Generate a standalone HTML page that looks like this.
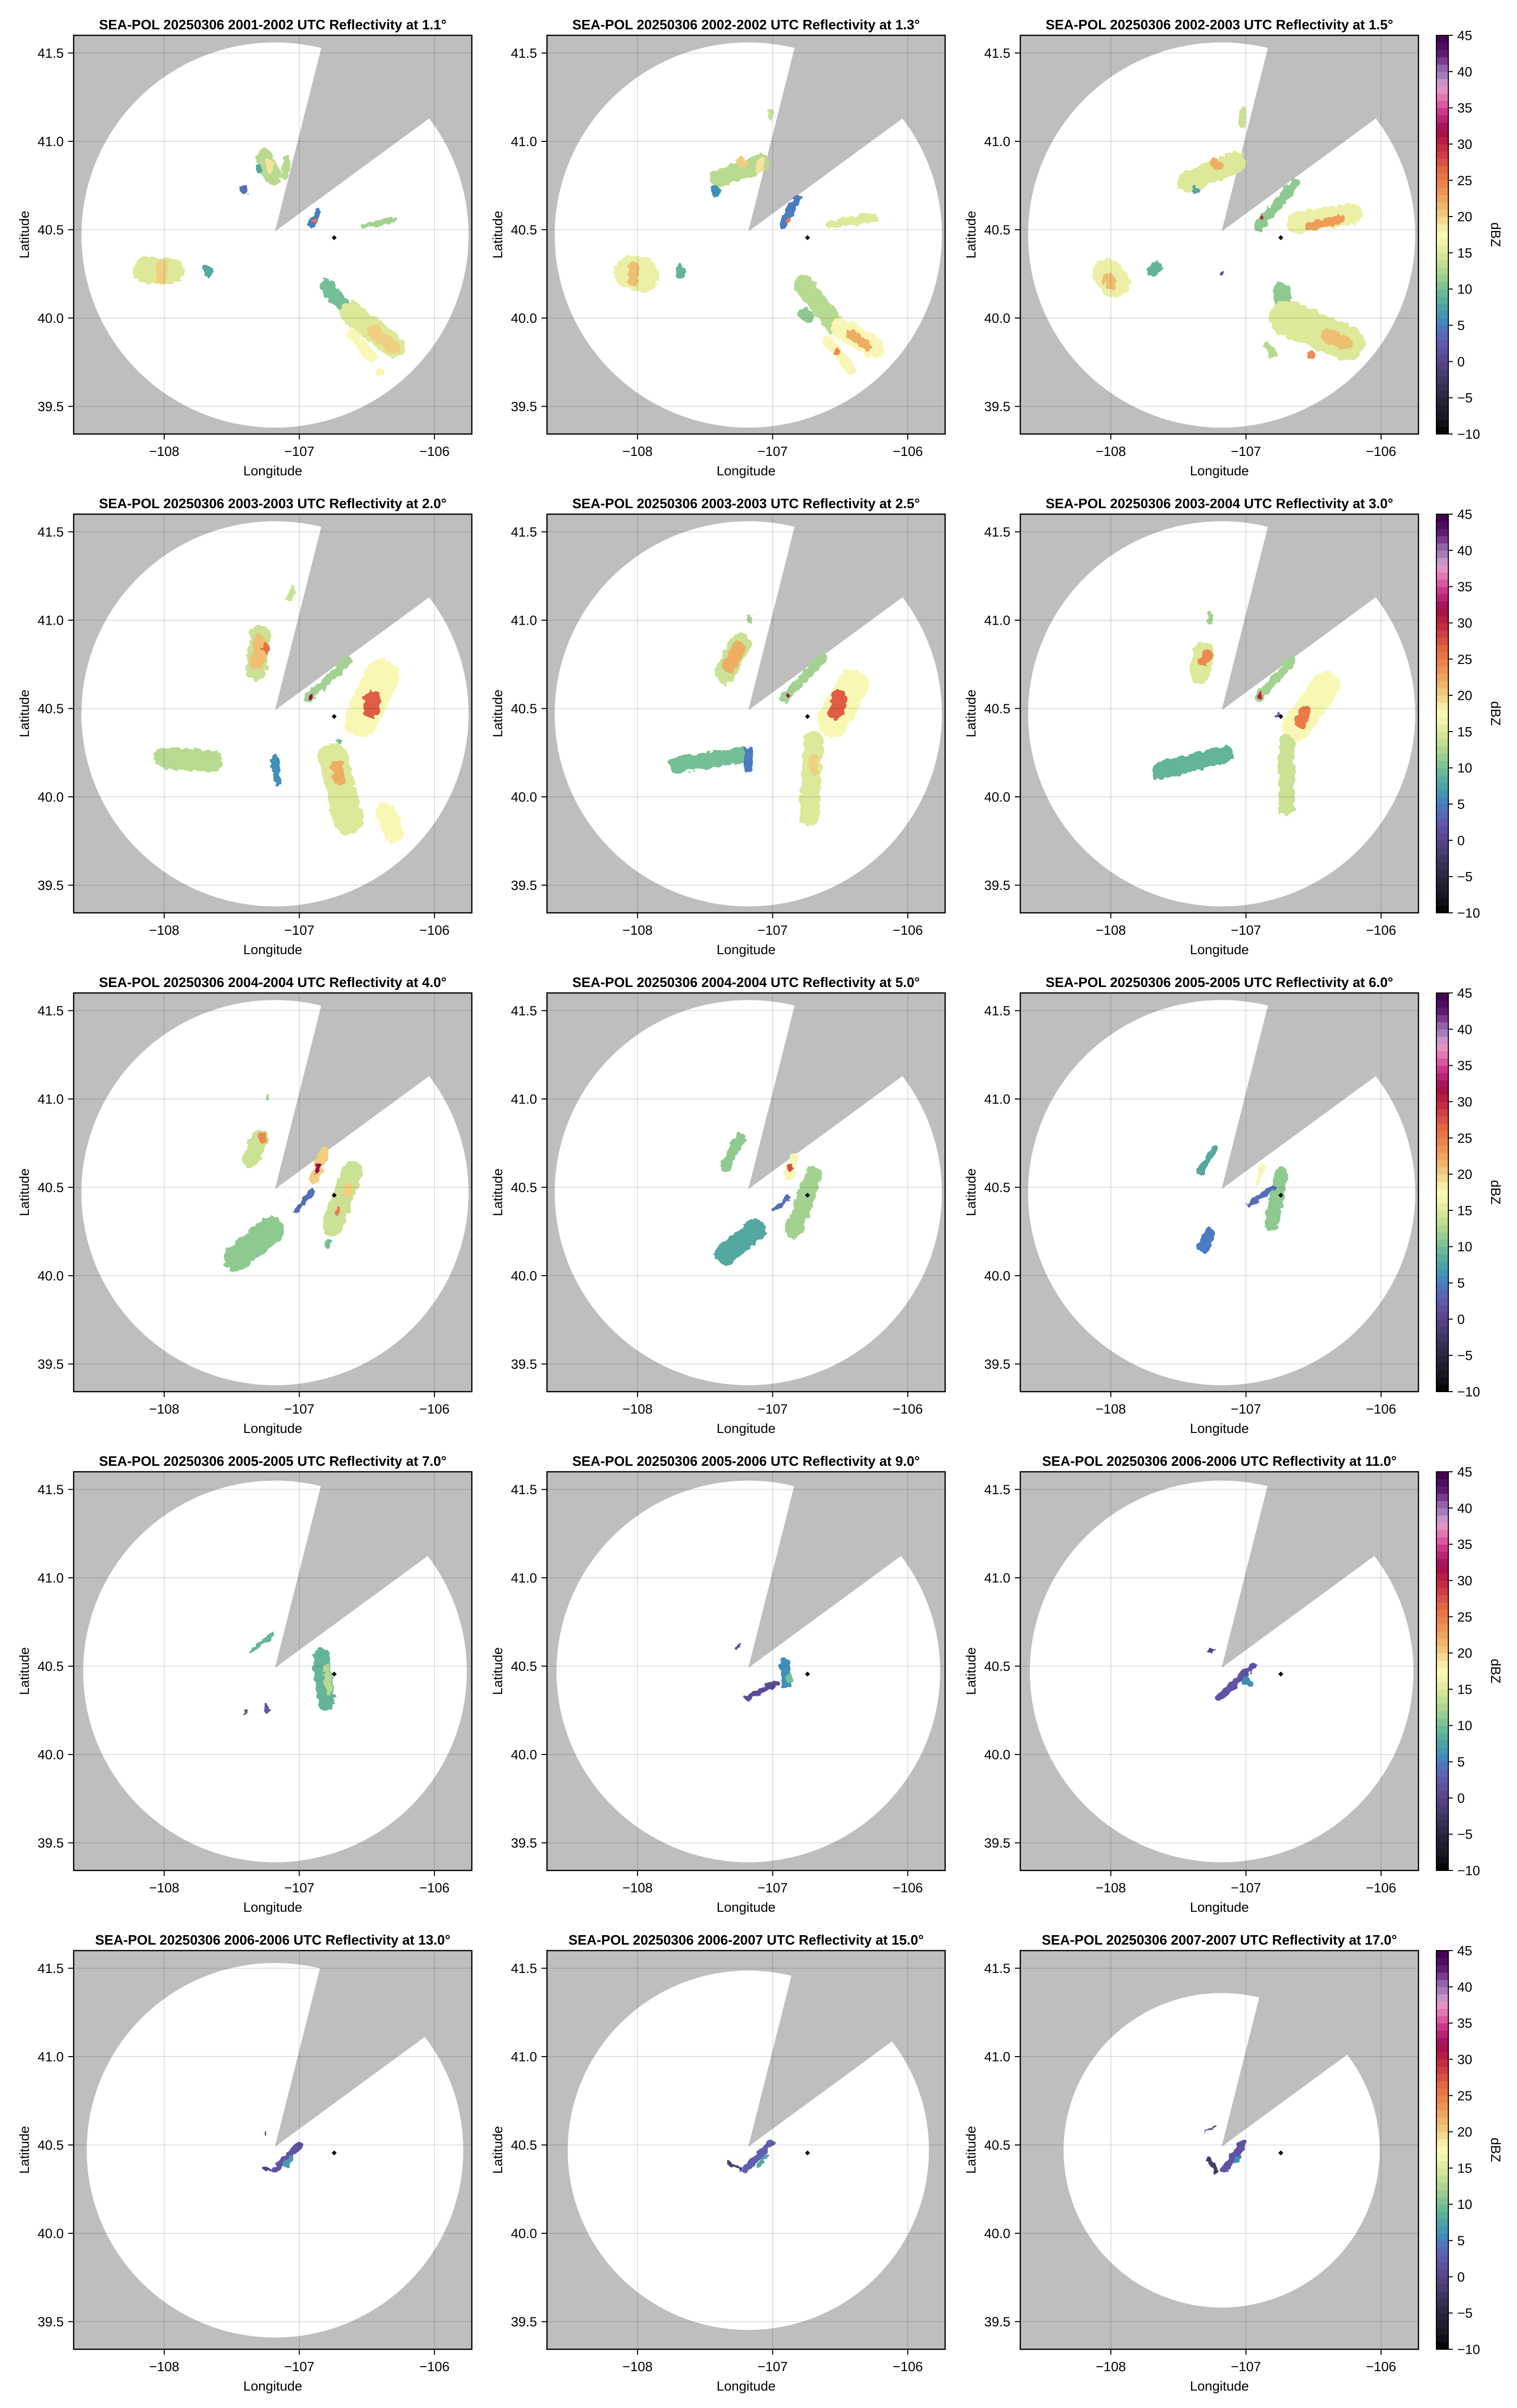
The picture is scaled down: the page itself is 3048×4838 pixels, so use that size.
<!DOCTYPE html>
<html><head><meta charset="utf-8"><style>
html,body{margin:0;padding:0;background:#fff;}
svg{display:block;font-family:"Liberation Sans",Arial,sans-serif;}
</style></head>
<body>
<svg id="fig" xmlns="http://www.w3.org/2000/svg" width="3048" height="4838" viewBox="0 0 3048 4838">
<defs>
<filter id="rough" x="-20%" y="-20%" width="140%" height="140%">
<feTurbulence type="fractalNoise" baseFrequency="0.08" numOctaves="2" seed="3" result="n"/>
<feDisplacementMap in="SourceGraphic" in2="n" scale="14" xChannelSelector="R" yChannelSelector="G"/>
</filter>
</defs>
</svg>
<script>
// ---- data ----
const elevations = ["1.1","1.3","1.5","2.0","2.5","3.0","4.0","5.0","6.0","7.0","9.0","11.0","13.0","15.0","17.0"];
const timeRanges = ["2001-2002","2002-2002","2002-2003","2003-2003","2003-2003","2003-2004","2004-2004","2004-2004","2005-2005","2005-2005","2005-2006","2006-2006","2006-2006","2006-2007","2007-2007"];
const rangeLat = [1.09,1.09,1.09,1.09,1.09,1.09,1.09,1.09,1.09,1.08,1.08,1.08,1.06,1.017,0.89];
const latTicks = [39.5,40.0,40.5,41.0,41.5];
const latTickLabels = ["39.5","40.0","40.5","41.0","41.5"];
const lonTicks = [-108,-107,-106];
const lonTickLabels = ["\u2212108","\u2212107","\u2212106"];
const cbTicks = [-10,-5,0,5,10,15,20,25,30,35,40,45];
const cbTickLabels = ["\u221210","\u22125","0","5","10","15","20","25","30","35","40","45"];
const radarSite = [-107.18, 40.47];
const shipPos = [-106.742, 40.455];
const wedgeEdge1 = [-106.839, 41.525];
const wedgeEdge2 = [-106.056, 41.12];
const wedgeApex = [-107.18, 40.49];
// echo cells: [lon1, lat1, lon2, lat2, widthDegLat, dBZ]
const echoes1 = [
 [-107.26,40.91,-107.20,40.80,0.10,13],[-107.22,40.88,-107.22,40.84,0.04,19],[-107.09,40.90,-107.11,40.80,0.04,13],
 [-107.42,40.73,-107.41,40.72,0.04,4],[-107.30,40.85,-107.30,40.84,0.03,8],
 [-106.86,40.60,-106.91,40.53,0.04,5],[-106.89,40.55,-106.88,40.56,0.015,25],
 [-106.52,40.52,-106.30,40.56,0.03,12],
 [-108.13,40.27,-107.95,40.27,0.15,15],[-108.02,40.30,-108.02,40.22,0.06,20],[-107.69,40.28,-107.67,40.26,0.05,8],
 [-106.80,40.18,-106.62,40.03,0.08,10],[-106.62,40.03,-106.30,39.84,0.13,15],[-106.45,39.93,-106.30,39.83,0.07,20],
 [-106.61,39.91,-106.47,39.78,0.06,17],[-106.41,39.70,-106.40,39.69,0.04,18]
];
const echoes2 = [
 [-107.40,40.79,-107.08,40.88,0.10,13],[-107.23,40.89,-107.22,40.87,0.05,20],[-107.09,40.89,-107.10,40.84,0.04,19],
 [-107.42,40.73,-107.42,40.71,0.05,6],[-107.01,41.17,-107.02,41.13,0.03,14],
 [-106.82,40.68,-106.92,40.53,0.05,5],[-106.89,40.55,-106.88,40.56,0.02,25],
 [-106.57,40.53,-106.25,40.57,0.05,15],
 [-108.05,40.26,-107.96,40.24,0.19,16],[-108.03,40.29,-108.03,40.21,0.06,21],[-107.69,40.28,-107.68,40.25,0.05,9],
 [-106.77,40.19,-106.55,39.97,0.11,13],[-106.76,40.02,-106.74,40.01,0.07,11],
 [-106.49,39.94,-106.25,39.83,0.12,18],[-106.42,39.91,-106.30,39.84,0.05,22],[-106.59,39.87,-106.42,39.71,0.06,18],[-106.53,39.80,-106.52,39.81,0.03,24]
];
const echoes3 = [
 [-107.43,40.77,-107.08,40.88,0.12,15],[-107.23,40.88,-107.21,40.86,0.05,22],[-107.38,40.73,-107.37,40.72,0.04,8],
 [-107.02,41.18,-107.03,41.10,0.04,14],
 [-106.64,40.76,-106.91,40.52,0.06,11],[-106.89,40.56,-106.88,40.57,0.02,30],
 [-106.62,40.54,-106.22,40.59,0.12,16],[-106.53,40.52,-106.30,40.56,0.05,23],
 [-108.03,40.25,-107.97,40.20,0.17,16],[-108.02,40.22,-108.00,40.20,0.07,21],[-107.69,40.27,-107.66,40.29,0.07,9],[-107.18,40.26,-107.18,40.25,0.02,2],
 [-106.74,40.15,-106.70,40.00,0.10,11],[-106.70,40.00,-106.25,39.86,0.20,15],[-106.40,39.90,-106.27,39.86,0.08,21],
 [-106.84,39.84,-106.80,39.80,0.05,13],[-106.52,39.80,-106.51,39.79,0.04,24]
];
const echoes4 = [
 [-107.29,40.91,-107.32,40.72,0.12,14],[-107.29,40.88,-107.31,40.76,0.08,21],[-107.25,40.85,-107.25,40.83,0.04,26],
 [-107.07,41.13,-107.05,41.18,0.04,14],
 [-106.64,40.77,-106.93,40.56,0.05,12],[-106.92,40.56,-106.91,40.57,0.02,32],
 [-106.39,40.68,-106.54,40.44,0.20,17],[-106.46,40.55,-106.47,40.50,0.10,27],[-106.71,40.32,-106.70,40.31,0.03,10],
 [-108.00,40.22,-107.64,40.20,0.12,13],[-107.18,40.22,-107.16,40.08,0.04,6],
 [-106.75,40.22,-106.64,39.87,0.17,15],[-106.72,40.17,-106.70,40.10,0.07,22],[-106.36,39.91,-106.30,39.80,0.12,17]
];
const echoes5 = [
 [-107.24,40.87,-107.35,40.70,0.12,14],[-107.25,40.84,-107.32,40.74,0.08,22],[-107.17,40.99,-107.17,41.02,0.03,12],
 [-106.63,40.79,-106.91,40.56,0.05,12],[-106.89,40.57,-106.88,40.58,0.02,32],
 [-106.41,40.63,-106.55,40.43,0.18,17],[-106.51,40.56,-106.53,40.48,0.09,27],
 [-106.70,40.32,-106.73,39.89,0.11,15],[-106.70,40.21,-106.70,40.15,0.05,20],
 [-107.71,40.18,-107.20,40.24,0.09,10],[-107.18,40.26,-107.18,40.16,0.05,5]
];
const echoes6 = [
 [-107.31,40.82,-107.34,40.70,0.12,15],[-107.29,40.80,-107.31,40.77,0.06,24],[-107.27,40.99,-107.26,41.03,0.03,12],
 [-106.66,40.77,-106.91,40.56,0.05,12],[-106.90,40.57,-106.89,40.58,0.02,30],
 [-106.41,40.63,-106.63,40.39,0.16,17],[-106.57,40.48,-106.59,40.42,0.07,25],
 [-106.70,40.31,-106.70,39.94,0.09,14],
 [-107.63,40.15,-107.16,40.24,0.10,9],[-106.77,40.46,-106.76,40.47,0.02,3]
];
const echoes7 = [
 [-107.29,40.78,-107.36,40.66,0.10,14],[-107.27,40.79,-107.28,40.77,0.04,24],[-107.23,41.02,-107.23,41.00,0.02,12],
 [-106.82,40.69,-106.89,40.55,0.06,20],[-106.86,40.62,-106.87,40.59,0.03,32],
 [-106.61,40.59,-106.75,40.29,0.12,14],[-106.64,40.50,-106.65,40.47,0.05,20],[-106.71,40.38,-106.72,40.35,0.03,25],
 [-106.90,40.48,-107.02,40.37,0.03,4],
 [-107.21,40.26,-107.46,40.10,0.15,11],[-106.79,40.19,-106.79,40.16,0.03,10]
];
const echoes8 = [
 [-107.24,40.78,-107.35,40.62,0.06,11],
 [-106.84,40.67,-106.88,40.57,0.05,18],[-106.86,40.62,-106.87,40.60,0.02,28],
 [-106.70,40.57,-106.84,40.26,0.10,12],[-106.88,40.44,-106.98,40.38,0.03,4],
 [-107.13,40.26,-107.35,40.12,0.12,8]
];
const echoes9 = [
 [-107.24,40.71,-107.34,40.59,0.04,8],
 [-106.88,40.62,-106.91,40.53,0.03,18],
 [-106.74,40.57,-106.81,40.29,0.08,11],[-106.80,40.50,-106.98,40.40,0.03,4],
 [-107.27,40.24,-107.31,40.16,0.07,5]
];
const echoes10 = [
 [-107.21,40.67,-107.36,40.58,0.03,9],
 [-106.84,40.55,-106.80,40.30,0.10,9],[-106.80,40.50,-106.78,40.36,0.04,13],
 [-107.25,40.27,-107.24,40.25,0.03,2],[-107.40,40.25,-107.40,40.24,0.02,1]
];
const echoes11 = [
 [-106.91,40.52,-106.90,40.40,0.06,6],[-106.98,40.40,-107.20,40.32,0.03,1],[-106.88,40.44,-106.87,40.42,0.03,10],
 [-107.27,40.60,-107.24,40.62,0.015,2]
];
const echoes12 = [
 [-106.95,40.50,-107.20,40.32,0.04,2],[-107.00,40.42,-106.98,40.40,0.04,6],[-107.27,40.58,-107.25,40.59,0.015,0]
];
const echoes13 = [
 [-107.00,40.50,-107.18,40.36,0.04,2],[-107.06,40.43,-107.10,40.38,0.03,7],[-107.26,40.37,-107.22,40.36,0.02,0],[-107.26,40.57,-107.25,40.58,0.012,0]
];
const echoes14 = [
 [-107.02,40.51,-107.20,40.36,0.04,3],[-107.05,40.44,-107.10,40.39,0.02,8],[-107.33,40.40,-107.24,40.36,0.02,-1]
];
const echoes15 = [
 [-107.02,40.51,-107.16,40.36,0.04,2],[-107.05,40.44,-107.08,40.40,0.02,6],[-107.28,40.43,-107.22,40.35,0.02,-2],[-107.30,40.58,-107.24,40.60,0.01,0]
];
const panelEchoes = [echoes1,echoes2,echoes3,echoes4,echoes5,echoes6,echoes7,echoes8,echoes9,echoes10,echoes11,echoes12,echoes13,echoes14,echoes15];

// colormap stops (dBZ -> colour)
const cmapValues = [-10,-8,-5,-2,0,1,3,5,6,8,10,11,13,15,17,18,20,22,25,26,27,28,29,30,31,32,33,34,35,36,37,38,39,40,41,42,43,45];
const cmapColors = ["#000000","#18141e","#2c2440","#443a6c","#564488","#5c4a98","#6060b0","#4a7cc0","#4090b8","#52a8a0","#74bf96","#8ec990","#b8da90","#dde898","#f8f8b4","#f8f6b4","#f0cf80","#eeae62","#ec7a45","#e8703e","#e05c42","#d64846","#cc3444","#c22240","#b11644","#9e0b4f","#b11c6a","#c62a80","#d84296","#e06aaa","#e584b8","#e0a0d0","#b088c2","#9e70b2","#8a52a2","#6a2277","#54136a","#3d0048"];

// ---- rendering ----
const NS="http://www.w3.org/2000/svg";
const svg=document.getElementById('fig');
function mk(tag,attrs,parent){const e=document.createElementNS(NS,tag);for(const k in attrs)e.setAttribute(k,attrs[k]);(parent||svg).appendChild(e);return e;}
function hex2rgb(h){return [parseInt(h.substr(1,2),16),parseInt(h.substr(3,2),16),parseInt(h.substr(5,2),16)];}
function cmap(v){
  if(v<=cmapValues[0])return cmapColors[0];
  for(let i=1;i<cmapValues.length;i++){
    if(v<=cmapValues[i]){const t=(v-cmapValues[i-1])/(cmapValues[i]-cmapValues[i-1]);
      const a=hex2rgb(cmapColors[i-1]),b=hex2rgb(cmapColors[i]);
      return 'rgb('+a.map((x,j)=>Math.round(x+(b[j]-x)*t)).join(',')+')';}
  }
  return cmapColors[cmapColors.length-1];
}
const PX_LON=271.5, PX_LAT=355, W=800, H=801;
const LON0=-108.67, LAT1=41.6;

for(let p=0;p<15;p++){
  const r=Math.floor(p/3), c=p%3;
  const L=148+951*c, T=71+962*r;
  const xs=lon=>L+(lon-LON0)*PX_LON;
  const ys=lat=>T+(LAT1-lat)*PX_LAT;
  const g=mk('g',{});
  
  
  const cid='clip'+p;
  const cp=mk('clipPath',{id:cid},g);mk('rect',{x:L,y:T,width:W,height:H},cp);
  const plot=mk('g',{'clip-path':'url(#'+cid+')'},g);
  const bg=mk('rect',{x:L,y:T,width:W,height:H,fill:'#bebebe'},plot);
  
  const rl=rangeLat[p], rlon=rl*PX_LAT/PX_LON*1.0;
  const circ=mk('ellipse',{cx:xs(radarSite[0]),cy:ys(radarSite[1]),rx:rl*PX_LAT*1.0,ry:rl*PX_LAT,fill:'#fff'},plot);
  circ.setAttribute('rx',(rl/0.7608)*PX_LON);
  
  const ax=xs(wedgeApex[0]),ay=ys(wedgeApex[1]);
  const d1=[xs(wedgeEdge1[0])-ax,ys(wedgeEdge1[1])-ay],d2=[xs(wedgeEdge2[0])-ax,ys(wedgeEdge2[1])-ay];
  const wedge=mk('polygon',{points:[ax,ay,ax+4*d1[0],ay+4*d1[1],ax+4*d2[0],ay+4*d2[1]].join(' '),fill:'#bebebe'},plot);
  
  const eg=mk('g',{filter:'url(#rough)'},plot);
  panelEchoes[p].forEach(e=>{
    const ln=mk('line',{x1:xs(e[0]),y1:ys(e[1]),x2:xs(e[2]),y2:ys(e[3]),stroke:cmap(e[5]),'stroke-width':e[4]*PX_LAT,'stroke-linecap':'round'},eg);
    
  });
  // grid
  latTicks.forEach(v=>{const l=mk('line',{x1:L,x2:L+W,y1:ys(v),y2:ys(v),stroke:'rgba(0,0,0,0.12)','stroke-width':2},plot);
    });
  lonTicks.forEach(v=>{const l=mk('line',{x1:xs(v),x2:xs(v),y1:T,y2:T+H,stroke:'rgba(0,0,0,0.12)','stroke-width':2},plot);
    });
  const sx=xs(shipPos[0]),sy=ys(shipPos[1]);
  const ship=mk('polygon',{points:[sx,sy-5,sx+5,sy,sx,sy+5,sx-5,sy].join(' '),fill:'#000'},plot);
  
  const fr=mk('rect',{x:L,y:T,width:W,height:H,fill:'none',stroke:'#000','stroke-width':2.5},g);
  
  latTicks.forEach((v,i)=>{
    mk('line',{x1:L-11,x2:L,y1:ys(v),y2:ys(v),stroke:'#000','stroke-width':2},g);
    const t=mk('text',{x:L-20,y:ys(v)+9.5,'font-size':27,'text-anchor':'end'},g);t.textContent=latTickLabels[i];
    
  });
  lonTicks.forEach((v,i)=>{
    mk('line',{x1:xs(v),x2:xs(v),y1:T+H,y2:T+H+11,stroke:'#000','stroke-width':2},g);
    const t=mk('text',{x:xs(v),y:T+H+44,'font-size':27,'text-anchor':'middle'},g);t.textContent=lonTickLabels[i];
    
  });
  const xt=mk('text',{x:L+W/2,y:T+H+83,'font-size':27,'text-anchor':'middle'},g);xt.textContent='Longitude';
  
  const yt=mk('text',{x:0,y:0,'font-size':27,'text-anchor':'middle',transform:'translate('+(L-90)+','+(T+H/2)+') rotate(-90)'},g);yt.textContent='Latitude';
  
  const tt=mk('text',{x:L+W/2,y:T-12,'font-size':27.5,'font-weight':'bold','text-anchor':'middle'},g);
  tt.textContent='SEA-POL 20250306 '+timeRanges[p]+' UTC Reflectivity at '+elevations[p]+'\u00b0';
  
  if(c===2){
    const cb=mk('g',{},g);
    
    const CX=2886,CW=24,CB=T+H,CT=T;const ppd=(CB-CT)/55;
    for(let v=-10;v<45;v++){
      mk('rect',{x:CX,y:CB-(v+11)*ppd,width:CW,height:ppd+0.6,fill:cmap(v+0.5)},cb);
    }
    mk('rect',{x:CX,y:CT,width:CW,height:CB-CT,fill:'none',stroke:'#000','stroke-width':2},cb);
    cbTicks.forEach((v,i)=>{
      const y=CB-(v+10)*ppd;
      mk('line',{x1:CX+CW,x2:CX+CW+9,y1:y,y2:y,stroke:'#000','stroke-width':2},cb);
      const t=mk('text',{x:2928,y:y+9.5,'font-size':27},cb);t.textContent=cbTickLabels[i];
      
    });
    const dl=mk('text',{x:0,y:0,'font-size':27,'text-anchor':'middle',transform:'translate(2996,'+(T+H/2)+') rotate(90)'},cb);dl.textContent='dBZ';
    
  }
}
</script>
</body></html>
